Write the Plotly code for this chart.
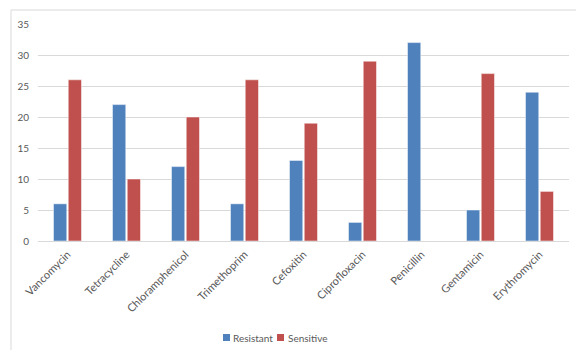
import plotly.graph_objects as go

antibiotics = ["Vancomycin", "Tetracycline", "Chloramphenicol", "Trimethoprim",
               "Cefoxitin", "Ciprofloxacin", "Penicillin", "Gentamicin", "Erythromycin"]
resistant = [6, 22, 12, 6, 13, 3, 32, 5, 24]
sensitive = [26, 10, 20, 26, 19, 29, 0, 27, 8]
series_names = ["Resistant", "Sensitive"]

BLUE = "#4F81BD"
RED = "#C0504D"
GRID = "#D9D9D9"
TEXT = "#595959"

fig = go.Figure()
fig.add_trace(go.Bar(name=series_names[0], x=antibiotics, y=resistant,
                     marker=dict(color=BLUE, line=dict(color="#FFFFFF", width=0.5))))
fig.add_trace(go.Bar(name=series_names[1], x=antibiotics, y=sensitive,
                     marker=dict(color=RED, line=dict(color="#FFFFFF", width=0.5))))

# plot area: left 38, right 569, top 24, bottom 241 (pixels)
L, R, T, B = 38, 569, 24, 241
W, H = 576, 350
pw, ph = R - L, B - T

def px(x):
    return (x - L) / pw

def py(y):
    return (B - y) / ph

# compact legend: small square swatch followed by its label
shapes = [
    dict(type="line", xref="paper", yref="paper", x0=px(11), x1=px(11),
         y0=py(10), y1=py(352), line=dict(color=GRID, width=1)),
    dict(type="line", xref="paper", yref="paper", x0=px(11), x1=px(580),
         y0=py(10), y1=py(10), line=dict(color=GRID, width=1)),
]
annotations = []
for name, color, sx in zip(series_names, [BLUE, RED], [223, 277]):
    shapes.append(dict(type="rect", xref="paper", yref="paper",
                       x0=px(sx), x1=px(sx + 7), y0=py(341), y1=py(334),
                       fillcolor=color, line=dict(width=0)))
    annotations.append(dict(text=name, xref="paper", yref="paper",
                            x=px(sx + 8.5), y=py(337.5), xanchor="left", yanchor="middle",
                            showarrow=False, font=dict(size=10, color=TEXT)))

fig.update_layout(
    width=W, height=H,
    margin=dict(l=L, r=W - R, t=T, b=H - B, pad=0, autoexpand=False),
    paper_bgcolor="white", plot_bgcolor="white",
    barmode="group", bargap=0.5, bargroupgap=0.1,
    font=dict(family="Lato, Open Sans, sans-serif", size=10, color=TEXT),
    showlegend=False,
    xaxis=dict(tickangle=-45, showgrid=False, showline=False, ticks="",
               automargin=False, tickfont=dict(size=11, color=TEXT),
               ticklabelstandoff=4),
    yaxis=dict(range=[0, 35], dtick=5, showgrid=True, gridcolor=GRID, gridwidth=1,
               zeroline=True, zerolinecolor=GRID, zerolinewidth=1, showline=False,
               automargin=False, ticks="", tickfont=dict(size=10, color=TEXT),
               ticklabelstandoff=8),
    shapes=shapes,
    annotations=annotations,
)

fig.write_html("out.html")
